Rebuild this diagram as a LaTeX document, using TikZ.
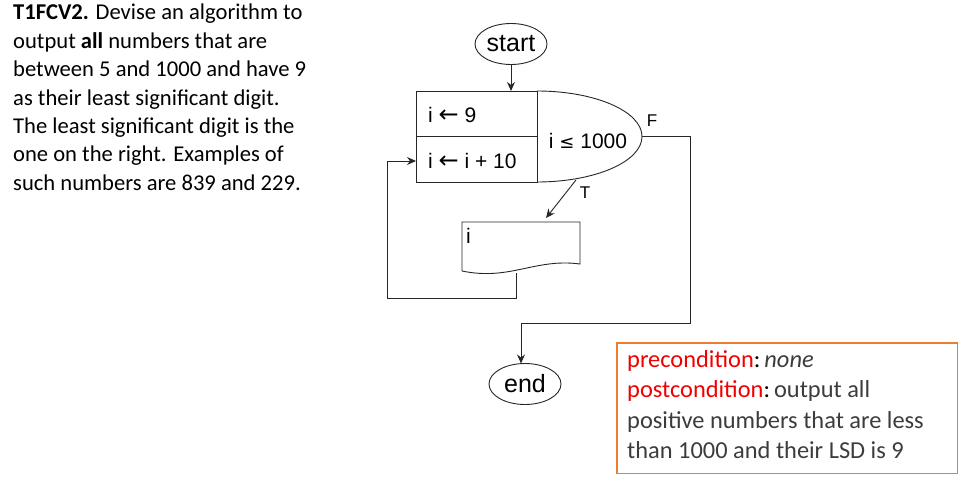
\documentclass[tikz,border=0pt]{standalone}
\usepackage{fontspec}
\setmainfont{Carlito}
\newfontfamily\arialf{Liberation Sans}
\newfontfamily\symf{DejaVu Sans}
\usetikzlibrary{shapes.geometric,arrows.meta}
\definecolor{boxorange}{HTML}{ED7D31}
\definecolor{pgray}{RGB}{60,60,60}
\definecolor{lred}{RGB}{240,0,0}
\begin{document}
\begin{tikzpicture}[x=1pt,y=-1pt,
  flow/.style={draw=black!85,line width=0.9pt},
  arr/.style={flow,-{Stealth[length=9pt,width=8pt]}},
  term/.style={ellipse,draw=black!85,line width=0.9pt,font=\arialf\fontsize{25}{28}\selectfont,inner sep=0pt,minimum width=72pt,minimum height=41pt},
  ftext/.style={font=\arialf\fontsize{21}{24}\selectfont,inner sep=0pt},
  lbl/.style={font=\arialf\fontsize{17}{20}\selectfont,inner sep=0pt},
  specbox/.style={rectangle,anchor=north west,minimum width=340pt,minimum height=130pt,inner sep=0pt}]
\useasboundingbox (0,0) rectangle (966,481);
% problem text
\node[anchor=north west,inner sep=0pt,align=left,font=\fontsize{22.6}{28.4}\selectfont] (task) at (13,4)
 {\textbf{T1FCV2.} Devise an algorithm to\\
  output \textbf{all} numbers that are\\
  between 5 and 1000 and have 9\\
  as their least significant digit.\\
  The least significant digit is the\\
  one on the right. Examples of\\
  such numbers are 839 and 229.};
% start
\node[term] (start) at (511,44) {start};
% init / update block
\draw[flow] (416,91) rectangle (537,182);
\draw[flow] (416,136) -- (537,136);
\draw[flow] (537,91) arc[start angle=90,end angle=-90,x radius=105pt,y radius=45.5pt];
\coordinate (blocktop) at (511,91);
\coordinate (blockleft) at (416,161);
\coordinate (condright) at (642,136.5);
\coordinate (condbot) at (576,180);
\node[ftext,anchor=west] (init) at (428,115) {i {\symf\fontsize{24}{24}\selectfont ←} 9};
\node[ftext,anchor=west] (upd) at (428,161) {i {\symf\fontsize{24}{24}\selectfont ←} i + 10};
\node[ftext] (cond) at (588,141) {i {\symf\fontsize{18}{20}\selectfont ≤} 1000};
\node[lbl] (F) at (652,121) {F};
\node[lbl] (T) at (585,193) {T};
% output document shape
\draw[flow] (462,271) -- (462,222) -- (580,222) -- (580,264)
  .. controls (535,258) and (510,281) .. (462,271);
\node[ftext,anchor=north west] (out) at (466,228) {i};
\coordinate (outtop) at (546,218);
\coordinate (outbot) at (516,273);
% end
\node[term] (end) at (525,384) {end};
% connectors
\draw[arr] (start.south) -- (blocktop);
\draw[arr] (condbot) -- (outtop);
\draw[arr] (outbot) -- (516,298) -- (387,298) -- (387,161) -- (blockleft);
\draw[arr] (condright) -- (690,136.5) -- (690,323) -- (521,323) -- (521,363.5);
% condition box
\node[specbox] (spec) at (617,343) {};
\draw[boxorange,line width=1.3pt] (spec.north west) rectangle (spec.south east);
\node[anchor=north west,inner sep=0pt,align=left,text=pgray,font=\fontsize{24.4}{30.5}\selectfont] (spect) at (627,350)
 {\textcolor{lred}{precondition}\textcolor{black}{:}\,\textit{none}\\
  \textcolor{lred}{postcondition}\textcolor{black}{:}\,output all\\
  positive numbers that are less\\
  than 1000 and their LSD is 9};
\end{tikzpicture}
\end{document}
